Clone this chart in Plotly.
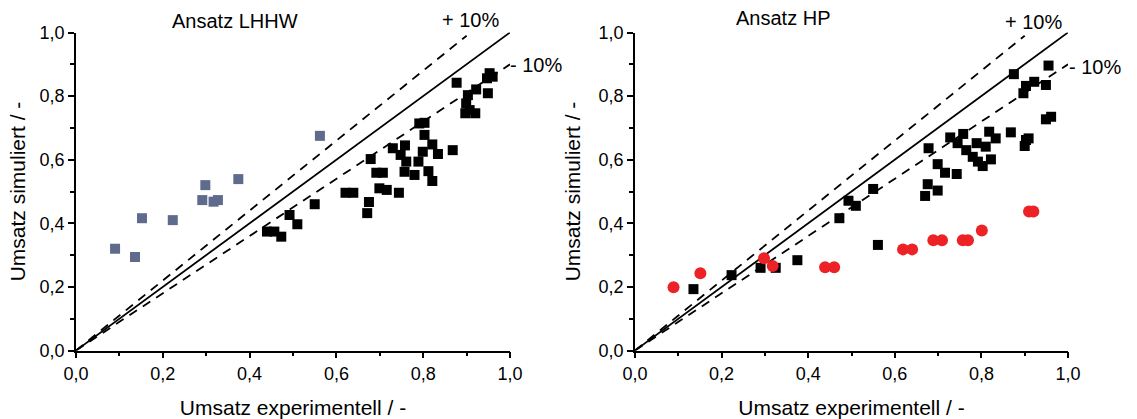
import plotly.graph_objects as go

# ---- data: Ansatz LHHW (left) ----
lhhw_grey_x = [0.090, 0.136, 0.152, 0.223, 0.298, 0.291, 0.317, 0.327, 0.374, 0.562]
lhhw_grey_y = [0.320, 0.294, 0.416, 0.410, 0.520, 0.473, 0.468, 0.473, 0.539, 0.675]

lhhw_black_x = [0.440, 0.457, 0.473, 0.492, 0.510, 0.550, 0.621, 0.639, 0.675, 0.671,
                0.679, 0.692, 0.707, 0.699, 0.716, 0.744, 0.730, 0.758, 0.748, 0.761,
                0.757, 0.780, 0.789, 0.799, 0.803, 0.791, 0.803, 0.821, 0.834, 0.812,
                0.821, 0.868, 0.877, 0.903, 0.922, 0.899, 0.907, 0.920, 0.897, 0.949,
                0.953, 0.960, 0.947]
lhhw_black_y = [0.374, 0.374, 0.358, 0.426, 0.397, 0.460, 0.496, 0.496, 0.467, 0.432,
                0.602, 0.559, 0.559, 0.510, 0.505, 0.496, 0.636, 0.645, 0.615, 0.594,
                0.562, 0.552, 0.594, 0.625, 0.678, 0.714, 0.716, 0.648, 0.618, 0.564,
                0.533, 0.630, 0.842, 0.803, 0.821, 0.777, 0.756, 0.746, 0.746, 0.809,
                0.872, 0.861, 0.856]

# ---- data: Ansatz HP (right) ----
hp_red_x = [0.089, 0.151, 0.298, 0.318, 0.439, 0.460, 0.619, 0.640, 0.689, 0.709,
            0.757, 0.769, 0.801, 0.910, 0.920]
hp_red_y = [0.199, 0.243, 0.290, 0.266, 0.262, 0.262, 0.318, 0.318, 0.347, 0.347,
            0.347, 0.347, 0.377, 0.437, 0.437]

hp_black_x = [0.135, 0.223, 0.290, 0.325, 0.375, 0.472, 0.493, 0.510, 0.550, 0.561,
              0.670, 0.676, 0.699, 0.699, 0.716, 0.743, 0.678, 0.728, 0.758, 0.745,
              0.765, 0.789, 0.780, 0.792, 0.803, 0.822, 0.810, 0.818, 0.833, 0.868,
              0.903, 0.900, 0.909, 0.875, 0.903, 0.897, 0.922, 0.949, 0.955, 0.949,
              0.961]
hp_black_y = [0.193, 0.237, 0.260, 0.260, 0.284, 0.416, 0.471, 0.455, 0.508, 0.332,
              0.486, 0.523, 0.503, 0.586, 0.559, 0.555, 0.636, 0.670, 0.681, 0.652,
              0.630, 0.652, 0.609, 0.594, 0.580, 0.601, 0.641, 0.688, 0.667, 0.686,
              0.662, 0.643, 0.667, 0.869, 0.832, 0.809, 0.845, 0.835, 0.896, 0.727,
              0.735]

# reference lines (parity and +/-10 %)
diag_x = [0.0, 1.0]
diag_y = [0.0, 1.0]
plus_x = [0.0, 0.9]
plus_y = [0.0, 0.99]
minus_x = [0.0, 1.0]
minus_y = [0.0, 0.9]

tick_vals = [0.0, 0.2, 0.4, 0.6, 0.8, 1.0]

FONT = "Liberation Sans, Arial, sans-serif"
GREY = "rgb(94,107,140)"
RED = "rgb(236,34,39)"

fig = go.Figure()

for xa, ya in (("x", "y"), ("x2", "y2")):
    fig.add_trace(go.Scatter(x=diag_x, y=diag_y, mode="lines", xaxis=xa, yaxis=ya,
                             line=dict(color="black", width=1.8), showlegend=False,
                             hoverinfo="skip"))
    fig.add_trace(go.Scatter(x=plus_x, y=plus_y, mode="lines", xaxis=xa, yaxis=ya,
                             line=dict(color="black", width=1.8, dash="9px,7px"),
                             showlegend=False, hoverinfo="skip"))
    fig.add_trace(go.Scatter(x=minus_x, y=minus_y, mode="lines", xaxis=xa, yaxis=ya,
                             line=dict(color="black", width=1.8, dash="9px,7px"),
                             showlegend=False, hoverinfo="skip"))

fig.add_trace(go.Scatter(x=lhhw_grey_x, y=lhhw_grey_y, mode="markers", xaxis="x", yaxis="y",
                         marker=dict(symbol="square", size=10, color=GREY), showlegend=False,
                         cliponaxis=False))
fig.add_trace(go.Scatter(x=lhhw_black_x, y=lhhw_black_y, mode="markers", xaxis="x", yaxis="y",
                         marker=dict(symbol="square", size=10, color="black"), showlegend=False,
                         cliponaxis=False))
fig.add_trace(go.Scatter(x=hp_black_x, y=hp_black_y, mode="markers", xaxis="x2", yaxis="y2",
                         marker=dict(symbol="square", size=10, color="black"), showlegend=False,
                         cliponaxis=False))
fig.add_trace(go.Scatter(x=hp_red_x, y=hp_red_y, mode="markers", xaxis="x2", yaxis="y2",
                         marker=dict(symbol="circle", size=12, color=RED), showlegend=False,
                         cliponaxis=False))

W, H = 1137, 419
x0_l, x1_l = 76 / W, 510 / W
x0_r, x1_r = 635 / W, 1068 / W
y0, y1 = (H - 350.5) / H, (H - 32.5) / H

axis_common = dict(
    range=[0, 1], tickvals=tick_vals, tickformat=".1f", automargin=False,
    showgrid=False, zeroline=False, showline=True, linecolor="black", linewidth=1.6,
    ticks="outside", ticklen=6, tickwidth=1.5, tickcolor="black",
    minor=dict(dtick=0.1, ticks="outside", ticklen=4, tickwidth=1.5, tickcolor="black"),
    tickfont=dict(family=FONT, size=18, color="black"),
)

title_font = dict(family=FONT, size=21, color="black")

fig.update_layout(
    width=W, height=H,
    margin=dict(l=0, r=0, t=0, b=0),
    paper_bgcolor="white", plot_bgcolor="white",
    separators=",.",
    xaxis=dict(domain=[x0_l, x1_l], anchor="y", title=dict(text="Umsatz experimentell / -",
               font=title_font, standoff=18), **axis_common),
    yaxis=dict(domain=[y0, y1], anchor="x", title=dict(text="Umsatz simuliert / -",
               font=title_font, standoff=8), **axis_common),
    xaxis2=dict(domain=[x0_r, x1_r], anchor="y2", title=dict(text="Umsatz experimentell / -",
                font=title_font, standoff=18), **axis_common),
    yaxis2=dict(domain=[y0, y1], anchor="x2", title=dict(text="Umsatz simuliert / -",
                font=title_font, standoff=12), **axis_common),
)

ann_font = dict(family=FONT, size=20, color="black")


def ann(text, px, py, size):
    return dict(text=text, x=px / W, y=(H - py) / H, xref="paper", yref="paper",
                xanchor="center", yanchor="middle", showarrow=False,
                font=dict(family=FONT, size=size, color="black"))


annotations = [
    ann("Ansatz LHHW", 235, 21, 20),
    ann("Ansatz HP", 783, 18, 20),
    ann("+ 10%", 470, 20, 20),
    ann("- 10%", 536, 65, 20),
    ann("+ 10%", 1033, 22, 20),
    ann("- 10%", 1095, 67, 20),
]
fig.update_layout(annotations=annotations)

fig.write_html("out.html")
